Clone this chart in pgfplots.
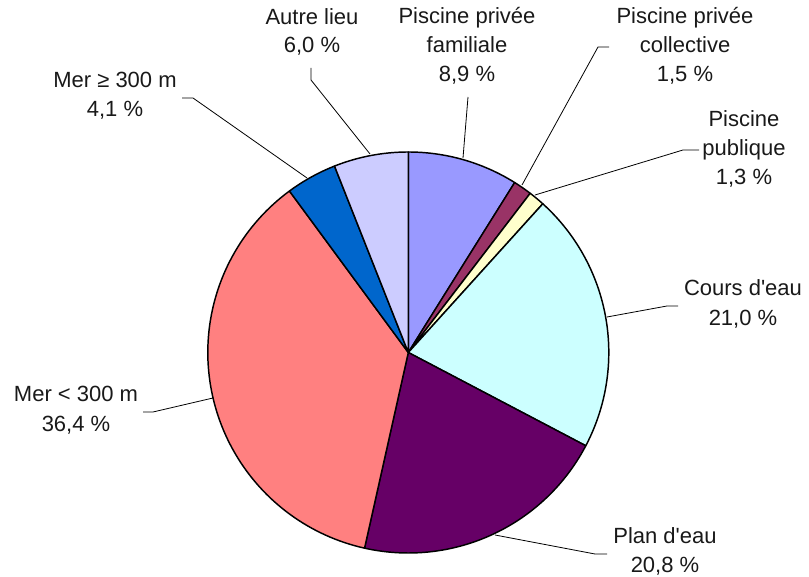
\documentclass[border=0pt]{standalone}
\usepackage{pgfplots}
\pgfplotsset{compat=1.18}
\usepackage{fontspec}
\setmainfont{Liberation Sans}[Ligatures=TeXOff]
\definecolor{cFam}{HTML}{9999FF}
\definecolor{cCol}{HTML}{993366}
\definecolor{cPub}{HTML}{FFFFCC}
\definecolor{cCou}{HTML}{CCFFFF}
\definecolor{cPla}{HTML}{660066}
\definecolor{cMer}{HTML}{FF8080}
\definecolor{cMerL}{HTML}{0066CC}
\definecolor{cAut}{HTML}{CCCCFF}
% shares (%)
\def\pFam{8.9}
\def\pCol{1.5}
\def\pPub{1.3}
\def\pCou{21.0}
\def\pPla{20.8}
\def\pMer{36.4}
\def\pMerL{4.1}
\def\pAut{6.0}
% pie geometry (pixel units)
\def\cx{408.3}
\def\cy{224.5}
\def\rr{200.5}
\pgfmathsetmacro\aA{90}
\pgfmathsetmacro\aB{\aA-3.6*\pFam}
\pgfmathsetmacro\aC{\aB-3.6*\pCol}
\pgfmathsetmacro\aD{\aC-3.6*\pPub}
\pgfmathsetmacro\aE{\aD-3.6*\pCou}
\pgfmathsetmacro\aF{\aE-3.6*\pPla}
\pgfmathsetmacro\aG{\aF-3.6*\pMer}
\pgfmathsetmacro\aH{\aG-3.6*\pMerL}
\pgfmathsetmacro\aI{\aH-3.6*\pAut}
\newcommand\lblfont{\fontsize{16.5}{20}\selectfont}
\newcommand\lab[3]{\node[anchor=base, font=\lblfont, inner sep=0pt, text=black!90] at (axis cs:#1,#2) {#3};}
\begin{document}
\begin{tikzpicture}
\begin{axis}[
  scale only axis, width=606.75pt, height=432.75pt,
  xmin=0, xmax=809, ymin=0, ymax=577,
  hide axis, clip=false,
  slice/.style={draw=black, line width=1.1pt, line join=round, samples=90, no markers},
  leader/.style={draw=black, line width=0.6pt, no markers},
]
\addplot[slice, fill=cFam,  domain=\aB:\aA] ({\cx+\rr*cos(x)},{\cy+\rr*sin(x)}) -- (axis cs:\cx,\cy) -- cycle;
\addplot[slice, fill=cCol,  domain=\aC:\aB] ({\cx+\rr*cos(x)},{\cy+\rr*sin(x)}) -- (axis cs:\cx,\cy) -- cycle;
\addplot[slice, fill=cPub,  domain=\aD:\aC] ({\cx+\rr*cos(x)},{\cy+\rr*sin(x)}) -- (axis cs:\cx,\cy) -- cycle;
\addplot[slice, fill=cCou,  domain=\aE:\aD] ({\cx+\rr*cos(x)},{\cy+\rr*sin(x)}) -- (axis cs:\cx,\cy) -- cycle;
\addplot[slice, fill=cPla,  domain=\aF:\aE] ({\cx+\rr*cos(x)},{\cy+\rr*sin(x)}) -- (axis cs:\cx,\cy) -- cycle;
\addplot[slice, fill=cMer,  domain=\aG:\aF] ({\cx+\rr*cos(x)},{\cy+\rr*sin(x)}) -- (axis cs:\cx,\cy) -- cycle;
\addplot[slice, fill=cMerL, domain=\aH:\aG] ({\cx+\rr*cos(x)},{\cy+\rr*sin(x)}) -- (axis cs:\cx,\cy) -- cycle;
\addplot[slice, fill=cAut,  domain=\aI:\aH] ({\cx+\rr*cos(x)},{\cy+\rr*sin(x)}) -- (axis cs:\cx,\cy) -- cycle;
% leader lines
\addplot[leader] coordinates {(311,509) (311,497) (370,423)};
\addplot[leader] coordinates {(468,480) (463,419)};
\addplot[leader] coordinates {(609,530) (598,530) (522,392)};
\addplot[leader] coordinates {(699,427) (683,427) (535,382)};
\addplot[leader] coordinates {(678,271) (667,271) (607,260)};
\addplot[leader] coordinates {(607,23) (595,23) (495,42)};
\addplot[leader] coordinates {(143,165) (153,165) (213,179)};
\addplot[leader] coordinates {(182,479) (193,479) (307,399)};
% labels
\lab{312}{552}{Autre lieu}
\lab{312}{524}{6,0 \%}
\lab{467}{553}{Piscine privée}
\lab{467}{524}{familiale}
\lab{467}{495}{8,9 \%}
\lab{685}{553}{Piscine privée}
\lab{685}{524}{collective}
\lab{685}{495}{1,5 \%}
\lab{744}{450}{Piscine}
\lab{744}{421}{publique}
\lab{744}{392}{1,3 \%}
\lab{743}{281}{Cours d'eau}
\lab{743}{251}{21,0 \%}
\lab{665}{33}{Plan d'eau}
\lab{665}{4}{20,8 \%}
\lab{76}{175}{Mer < 300 m}
\lab{76}{145}{36,4 \%}
\lab{115}{489}{Mer ≥ 300 m}
\lab{115}{460}{4,1 \%}
\end{axis}
\pgfresetboundingbox
\path (current axis.south west) rectangle (current axis.north east);
\end{tikzpicture}
\end{document}
